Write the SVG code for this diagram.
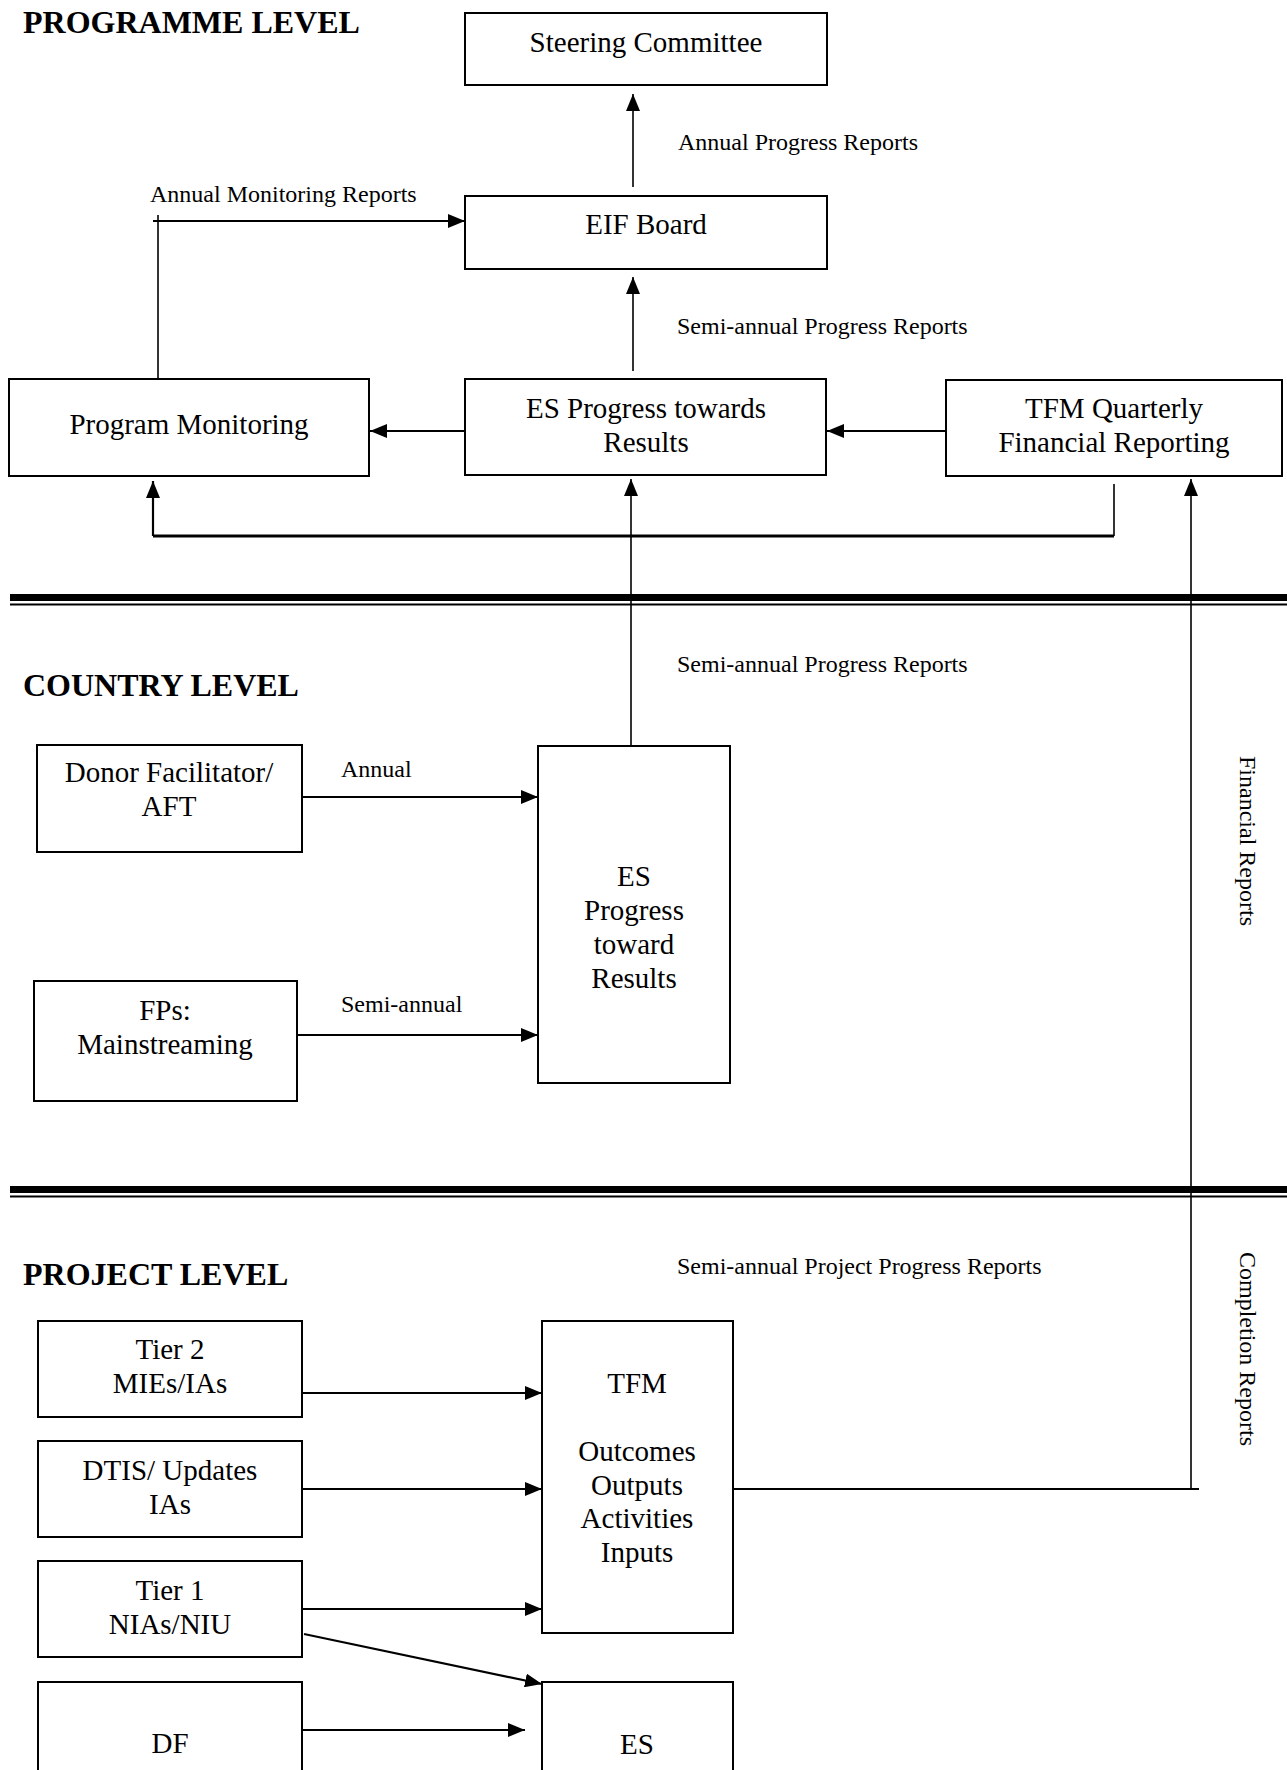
<svg xmlns="http://www.w3.org/2000/svg" width="1287" height="1770" viewBox="0 0 1287 1770">
<style>
.box{fill:#fff;stroke:#000;stroke-width:2}
.t{font-family:"Liberation Serif","Times New Roman",serif;font-size:29px;fill:#000;text-anchor:middle}
.lbl{font-family:"Liberation Serif","Times New Roman",serif;font-size:24px;fill:#000}
.hdr{font-family:"Liberation Serif","Times New Roman",serif;font-size:32px;font-weight:bold;fill:#000}
.c{fill:none;stroke:#000;stroke-width:1.6}
.c2{fill:none;stroke:#000;stroke-width:2.2}
</style>
<defs>
<marker id="ah" viewBox="0 0 17 14" refX="17" refY="7" markerWidth="17" markerHeight="14" markerUnits="userSpaceOnUse" orient="auto">
<path d="M0,0 L17,7 L0,14 Z" fill="#000"/>
</marker>
</defs>
<rect width="1287" height="1770" fill="#fff"/>

<g id="separators">
<rect x="10" y="594" width="1277" height="7" fill="#000"/>
<rect x="10" y="603.5" width="1277" height="2" fill="#000"/>
<rect x="10" y="1186" width="1277" height="7" fill="#000"/>
<rect x="10" y="1195.5" width="1277" height="2" fill="#000"/>
</g>

<g id="headers">
<text class="hdr" x="23" y="33">PROGRAMME LEVEL</text>
<text class="hdr" x="23" y="696">COUNTRY LEVEL</text>
<text class="hdr" x="23" y="1285">PROJECT LEVEL</text>
</g>

<g id="connectors">
<line class="c" x1="633" y1="187" x2="633" y2="94" marker-end="url(#ah)"/>
<line class="c" x1="158" y1="385" x2="158" y2="215"/>
<line class="c2" x1="153" y1="221" x2="465" y2="221" marker-end="url(#ah)"/>
<line class="c" x1="633" y1="371" x2="633" y2="277" marker-end="url(#ah)"/>
<line class="c2" x1="465" y1="431" x2="370" y2="431" marker-end="url(#ah)"/>
<line class="c2" x1="946" y1="431" x2="827" y2="431" marker-end="url(#ah)"/>
<path class="c" d="M1114,484 V536"/>
<line x1="1114" y1="536" x2="153" y2="536" stroke="#000" stroke-width="3.2"/>
<line class="c2" x1="153" y1="536" x2="153" y2="481" marker-end="url(#ah)"/>
<line class="c" x1="631" y1="746" x2="631" y2="479" marker-end="url(#ah)"/>
<line class="c2" x1="733" y1="1489" x2="1199" y2="1489"/>
<line class="c" x1="1191" y1="1489" x2="1191" y2="479" marker-end="url(#ah)"/>
<line class="c2" x1="298" y1="797" x2="538" y2="797" marker-end="url(#ah)"/>
<line class="c2" x1="298" y1="1035" x2="538" y2="1035" marker-end="url(#ah)"/>
<line class="c2" x1="302" y1="1393" x2="542" y2="1393" marker-end="url(#ah)"/>
<line class="c2" x1="302" y1="1489" x2="542" y2="1489" marker-end="url(#ah)"/>
<line class="c2" x1="302" y1="1609" x2="542" y2="1609" marker-end="url(#ah)"/>
<line class="c2" x1="304" y1="1634" x2="542" y2="1684" marker-end="url(#ah)"/>
<line class="c2" x1="302" y1="1730" x2="525" y2="1730" marker-end="url(#ah)"/>
</g>

<g id="labels">
<text class="lbl" x="678" y="150">Annual Progress Reports</text>
<text class="lbl" x="150" y="202">Annual Monitoring Reports</text>
<text class="lbl" x="677" y="334">Semi-annual Progress Reports</text>
<text class="lbl" x="677" y="672">Semi-annual Progress Reports</text>
<text class="lbl" x="341" y="777">Annual</text>
<text class="lbl" x="341" y="1012">Semi-annual</text>
<text class="lbl" x="677" y="1274">Semi-annual Project Progress Reports</text>
<text class="lbl" transform="translate(1240,756) rotate(90)">Financial Reports</text>
<text class="lbl" transform="translate(1240,1252) rotate(90)">Completion Reports</text>
</g>

<g id="steering-committee">
<rect class="box" x="465" y="13" width="362" height="72"/>
<text class="t" x="646" y="52">Steering Committee</text>
</g>
<g id="eif-board">
<rect class="box" x="465" y="196" width="362" height="73"/>
<text class="t" x="646" y="234">EIF Board</text>
</g>
<g id="program-monitoring">
<rect class="box" x="9" y="379" width="360" height="97"/>
<text class="t" x="189" y="434">Program Monitoring</text>
</g>
<g id="es-progress-programme">
<rect class="box" x="465" y="379" width="361" height="96"/>
<text class="t" x="646" y="418">ES Progress towards</text>
<text class="t" x="646" y="452">Results</text>
</g>
<g id="tfm-quarterly">
<rect class="box" x="946" y="380" width="336" height="96"/>
<text class="t" x="1114" y="418">TFM Quarterly</text>
<text class="t" x="1114" y="452">Financial Reporting</text>
</g>
<g id="donor-facilitator">
<rect class="box" x="37" y="745" width="265" height="107"/>
<text class="t" x="169" y="782">Donor Facilitator/</text>
<text class="t" x="169" y="816">AFT</text>
</g>
<g id="fps-mainstreaming">
<rect class="box" x="34" y="981" width="263" height="120"/>
<text class="t" x="165" y="1020">FPs:</text>
<text class="t" x="165" y="1054">Mainstreaming</text>
</g>
<g id="es-progress-country">
<rect class="box" x="538" y="746" width="192" height="337"/>
<text class="t" x="634" y="886">ES</text>
<text class="t" x="634" y="920">Progress</text>
<text class="t" x="634" y="954">toward</text>
<text class="t" x="634" y="988">Results</text>
</g>
<g id="tier2">
<rect class="box" x="38" y="1321" width="264" height="96"/>
<text class="t" x="170" y="1359">Tier 2</text>
<text class="t" x="170" y="1393">MIEs/IAs</text>
</g>
<g id="dtis">
<rect class="box" x="38" y="1441" width="264" height="96"/>
<text class="t" x="170" y="1480">DTIS/ Updates</text>
<text class="t" x="170" y="1514">IAs</text>
</g>
<g id="tier1">
<rect class="box" x="38" y="1561" width="264" height="96"/>
<text class="t" x="170" y="1600">Tier 1</text>
<text class="t" x="170" y="1634">NIAs/NIU</text>
</g>
<g id="df">
<rect class="box" x="38" y="1682" width="264" height="100"/>
<text class="t" x="170" y="1753">DF</text>
</g>
<g id="tfm">
<rect class="box" x="542" y="1321" width="191" height="312"/>
<text class="t" x="637" y="1393">TFM</text>
<text class="t" x="637" y="1461">Outcomes</text>
<text class="t" x="637" y="1495">Outputs</text>
<text class="t" x="637" y="1528">Activities</text>
<text class="t" x="637" y="1562">Inputs</text>
</g>
<g id="es-project">
<rect class="box" x="542" y="1682" width="191" height="100"/>
<text class="t" x="637" y="1754">ES</text>
</g>
</svg>
